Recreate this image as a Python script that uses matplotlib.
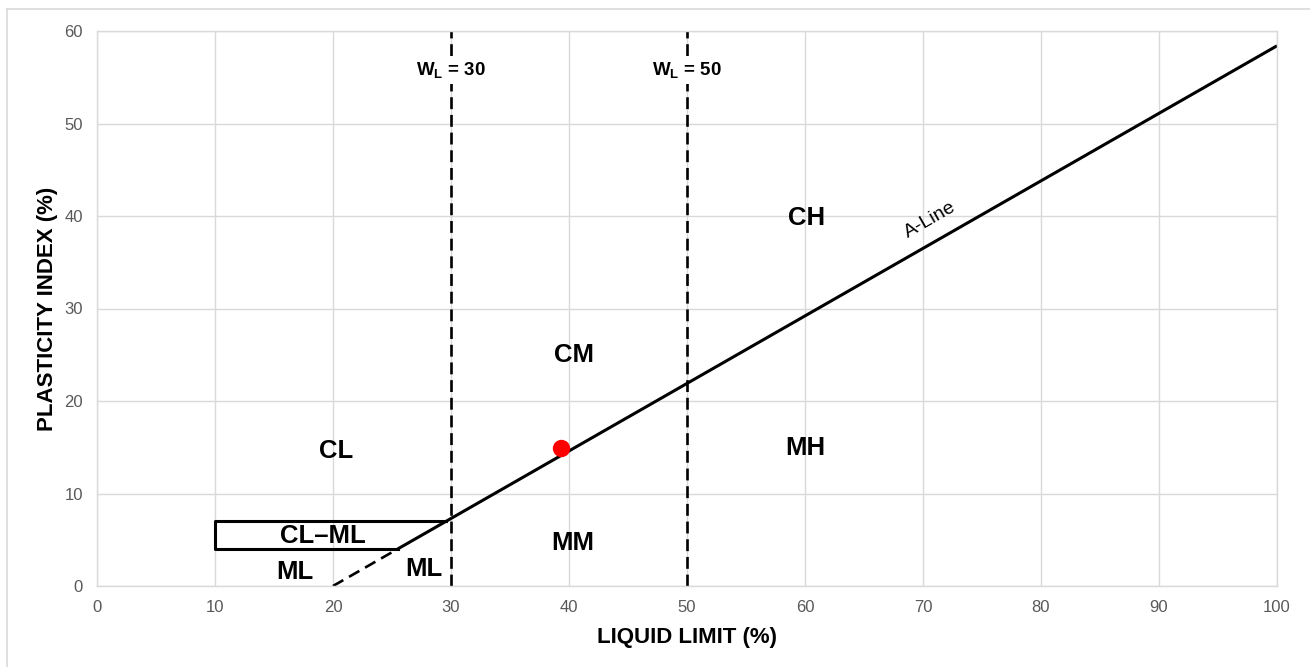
import matplotlib.pyplot as plt
from matplotlib.lines import Line2D

plt.rcParams['font.family'] = ['Liberation Sans', 'DejaVu Sans']
plt.rcParams['mathtext.fontset'] = 'custom'
plt.rcParams['mathtext.rm'] = 'Liberation Sans'
plt.rcParams['mathtext.bf'] = 'Liberation Sans:bold'

# A-line (solid part and dashed continuation to PI = 0)
a_line_x = [25.48, 100]
a_line_y = [4, 58.4]
a_dash_x = [20, 25.48]
a_dash_y = [0, 4]

# CL-ML band outline
band_x = [25.48, 10, 10, 29.59]
band_y = [4, 4, 7, 7]

# liquid limit boundaries
wl_lines = [30, 50]

# sample point
sample_ll = [39.3]
sample_pi = [14.9]

# zone labels
zone_names = ['CL', 'CM', 'CH', 'MH', 'MM', 'ML', 'ML', 'CL\u2013ML']
zone_x = [20.3, 40.4, 60.1, 60.0, 40.3, 16.8, 27.7, 19.1]
zone_y = [14.6, 25.0, 39.8, 14.9, 4.6, 1.5, 1.8, 5.4]

x_ticks = list(range(0, 101, 10))
y_ticks = list(range(0, 61, 10))

fig = plt.figure(figsize=(13.1, 6.67), dpi=100)
ax = fig.add_axes([97 / 1310, 1 - 586 / 667, 1180 / 1310, 555 / 667])

grid_col = '#d9d9d9'
ax.set_xlim(0, 100)
ax.set_ylim(0, 60)
ax.set_xticks(x_ticks)
ax.set_yticks(y_ticks)
ax.grid(True, color=grid_col, linewidth=1)
ax.set_axisbelow(True)
for s in ax.spines.values():
    s.set_color(grid_col)
    s.set_linewidth(1)
ax.tick_params(length=0, labelsize=12, labelcolor='#595959', pad=10)

# dashed liquid limit lines with labels on top
for wl in wl_lines:
    ax.plot([wl, wl], [0, 60], color='black', linewidth=1.9, dashes=(4.5, 2.2))
    ax.text(wl, 55.8, r'$\mathbf{W_L}$ = %d' % wl, fontsize=13.5, fontweight='bold',
            ha='center', va='center',
            bbox=dict(facecolor='white', edgecolor='none', pad=3))

ax.plot(a_dash_x, a_dash_y, color='black', linewidth=1.9, dashes=(4.5, 2.5))
ax.plot(a_line_x, a_line_y, color='black', linewidth=2.2, solid_capstyle='butt')
ax.plot(band_x, band_y, color='black', linewidth=2.2)

ax.plot(sample_ll, sample_pi, 'o', color='#ff0000', markersize=11.5, zorder=5)

for name, zx, zy in zip(zone_names, zone_x, zone_y):
    ax.text(zx, zy, name, fontsize=18.5, fontweight='bold', ha='center', va='center')

ax.text(70.6, 39.6, 'A-Line', fontsize=14, rotation=29.8,
        ha='center', va='center', rotation_mode='anchor')

ax.set_xlabel('LIQUID LIMIT (%)', fontsize=16, fontweight='bold', labelpad=9)
ax.set_ylabel('PLASTICITY INDEX (%)', fontsize=16, fontweight='bold', labelpad=5)

# outer chart border
fig.add_artist(Line2D([7 / 1310, 1], [1 - 9 / 667, 1 - 9 / 667], color=grid_col, linewidth=1.2))
fig.add_artist(Line2D([7 / 1310, 7 / 1310], [0, 1 - 9 / 667], color=grid_col, linewidth=1.2))

fig.savefig('out.png', dpi=100)
